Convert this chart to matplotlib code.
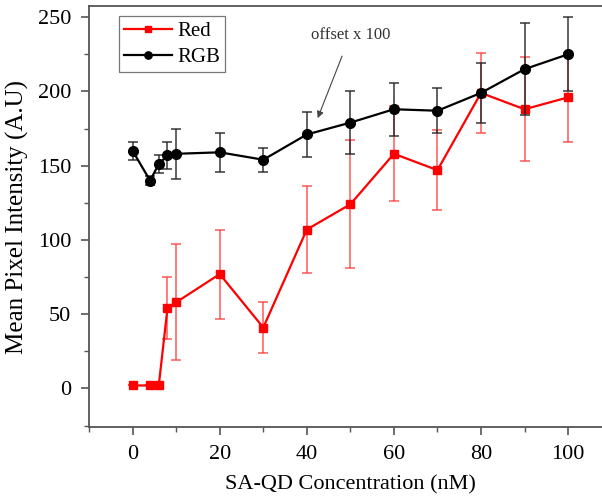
import matplotlib

matplotlib.use("Agg")
import matplotlib.pyplot as plt
from matplotlib.ticker import MultipleLocator

# concentration (nM)
conc = [0, 4, 6, 8, 10, 20, 30, 40, 50, 60, 70, 80, 90, 100]

red_mean = [2, 2, 2, 54, 58, 77, 41, 107, 124, 158, 147, 199, 188, 196]
red_err = [0, 0, 0, 21, 39, 30, 17, 29, 43, 32, 27, 27, 35, 30]

rgb_mean = [160, 140, 151, 157, 158, 159, 154, 171, 179, 188, 187, 199, 215, 225]
rgb_err = [6, 3, 6, 9, 17, 13, 8, 15, 21, 18, 15, 20, 31, 25]

x_ticks = [0, 20, 40, 60, 80, 100]
y_ticks = [0, 50, 100, 150, 200, 250]

plt.rcParams["font.family"] = ["Liberation Serif", "DejaVu Serif"]

fig = plt.figure(figsize=(6.02, 5.03), dpi=100)
ax = fig.add_axes([0.148, 0.151, 0.868, 0.837])

# error bars first, without lines, so the legend shows only line + marker
ax.errorbar(conc, red_mean, yerr=red_err, fmt="none", ecolor=(1.0, 0.2, 0.2, 0.75),
            elinewidth=1.2, capsize=3.5, capthick=1.2, zorder=2)
ax.plot(conc, red_mean, color="#ff0000", marker="s", ms=6, lw=1.6, label="Red", zorder=2.5)
ax.errorbar(conc, rgb_mean, yerr=rgb_err, fmt="none", ecolor=(0.15, 0.15, 0.15, 0.85),
            elinewidth=1.2, capsize=3.5, capthick=1.2, zorder=3)
ax.plot(conc, rgb_mean, color="black", marker="o", ms=7, lw=1.6, label="RGB", zorder=3.5)

ax.annotate("offset x 100", xy=(42.5, 182), xytext=(50, 238),
            ha="center", va="center", fontsize=12, color="#333333",
            arrowprops=dict(arrowstyle="-|>", color="#444444", lw=0.8,
                            mutation_scale=10, shrinkA=8, shrinkB=0))

ax.set_xlim(-10, 110)
ax.set_ylim(-26, 257.5)
ax.set_xticks(x_ticks)
ax.set_yticks(y_ticks)
ax.xaxis.set_minor_locator(MultipleLocator(10))
ax.yaxis.set_minor_locator(MultipleLocator(25))
ax.tick_params(which="major", direction="out", length=6, width=1.2, color="#555555",
               labelsize=16, pad=7)
ax.tick_params(which="minor", direction="out", length=3.5, width=1.0, color="#555555")
for spine in ax.spines.values():
    spine.set_color("#555555")
    spine.set_linewidth(1.3)

ax.set_xlabel("SA-QD Concentration (nM)", fontsize=16, labelpad=8)
ax.set_ylabel("Mean Pixel Intensity (A.U)", fontsize=18, labelpad=6)

leg = ax.legend(loc="upper left", bbox_to_anchor=(0.045, 0.99), fontsize=15,
                frameon=True, fancybox=False, edgecolor="#555555", markerscale=0.75,
                handlelength=2.3, borderpad=0.25, labelspacing=0.3, handletextpad=0.25,
                borderaxespad=0.3)
leg.get_frame().set_linewidth(0.9)

fig.savefig("out.png", dpi=100)
